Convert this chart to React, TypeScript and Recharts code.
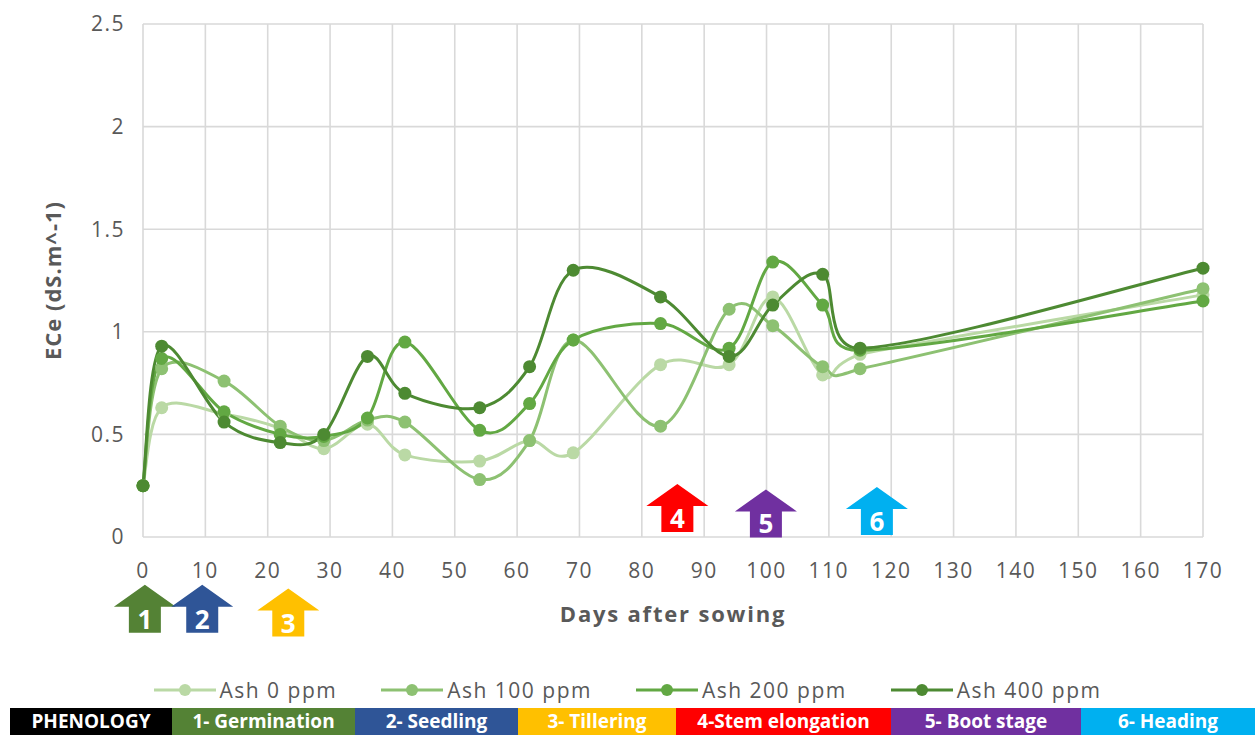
import React from 'react'
import { LineChart, Line, XAxis, YAxis, CartesianGrid, Legend, ReferenceDot, Label } from 'recharts'

const days = [0, 3, 13, 22, 29, 36, 42, 54, 62, 69, 83, 94, 101, 109, 115, 170]
const ash0 = [0.25, 0.63, 0.6, 0.53, 0.43, 0.55, 0.4, 0.37, 0.47, 0.41, 0.84, 0.84, 1.17, 0.79, 0.89, 1.18]
const ash100 = [0.25, 0.82, 0.76, 0.54, 0.47, 0.57, 0.56, 0.28, 0.47, 0.96, 0.54, 1.11, 1.03, 0.83, 0.82, 1.21]
const ash200 = [0.25, 0.87, 0.61, 0.5, 0.49, 0.58, 0.95, 0.52, 0.65, 0.96, 1.04, 0.92, 1.34, 1.13, 0.91, 1.15]
const ash400 = [0.25, 0.93, 0.56, 0.46, 0.5, 0.88, 0.7, 0.63, 0.83, 1.3, 1.17, 0.88, 1.13, 1.28, 0.92, 1.31]

const seriesKeys = ['ash0', 'ash100', 'ash200', 'ash400']
const seriesNames = ['Ash 0 ppm', 'Ash 100 ppm', 'Ash 200 ppm', 'Ash 400 ppm']
const seriesColors = ['#BAD9A5', '#8DC172', '#62A843', '#4D8A32']

const xTicks = [0, 10, 20, 30, 40, 50, 60, 70, 80, 90, 100, 110, 120, 130, 140, 150, 160, 170]
const yTicks = [0, 0.5, 1, 1.5, 2, 2.5]

// phenology stage markers (day, level on ECe axis)
const stageNumbers = ['1', '2', '3', '4', '5', '6']
const stageDays = [0.3, 9.5, 23.3, 85.7, 99.9, 117.7]
const stageLevels = [-0.35, -0.35, -0.368, 0.141, 0.115, 0.127]
const stageColors = ['#548235', '#2F5597', '#FFC000', '#FF0000', '#7030A0', '#00B0F0']

const phenologyLabels = ['PHENOLOGY', '1- Germination', '2- Seedling', '3- Tillering', '4-Stem elongation', '5- Boot stage', '6- Heading']
const phenologyColors = ['#000000', '#548235', '#2F5597', '#FFC000', '#FF0000', '#7030A0', '#00B0F0']
const phenologyEdges = [10, 172, 355, 518, 676, 891, 1081, 1255]

const data = days.map((d, i) => ({
  day: d,
  ash0: ash0[i],
  ash100: ash100[i],
  ash200: ash200[i],
  ash400: ash400[i],
}))

const FONT = '"Open Sans", sans-serif'
const TEXT = '#595959'

const clamp = (v: number, a: number, b: number) => Math.min(Math.max(v, Math.min(a, b)), Math.max(a, b))

// smoothed line like the spreadsheet one (catmull-rom style bezier, x kept inside each segment)
const smoothCurve = (context: any) => {
  let pts: number[][] = []
  return {
    areaStart() {},
    areaEnd() {},
    lineStart() {
      pts = []
    },
    point(x: number, y: number) {
      pts.push([+x, +y])
    },
    lineEnd() {
      if (!pts.length) return
      context.moveTo(pts[0][0], pts[0][1])
      for (let i = 0; i < pts.length - 1; i++) {
        const p0 = pts[i - 1] ?? pts[i]
        const p1 = pts[i]
        const p2 = pts[i + 1]
        const p3 = pts[i + 2] ?? p2
        context.bezierCurveTo(
          clamp(p1[0] + (p2[0] - p0[0]) / 6, p1[0], p2[0]),
          p1[1] + (p2[1] - p0[1]) / 6,
          clamp(p2[0] - (p3[0] - p1[0]) / 6, p1[0], p2[0]),
          p2[1] - (p3[1] - p1[1]) / 6,
          p2[0],
          p2[1],
        )
      }
    },
  }
}

const StageArrow = (props: any) => {
  const { cx, cy, fill, label } = props
  const hw = 31
  const sw = 16
  const top = cy - 24
  const base = cy - 2
  const bottom = cy + 24
  const d = `M${cx},${top} L${cx + hw},${base} L${cx + sw},${base} L${cx + sw},${bottom} L${cx - sw},${bottom} L${cx - sw},${base} L${cx - hw},${base} Z`
  return (
    <g>
      <path d={d} fill={fill} />
      <text x={cx} y={cy + 10} textAnchor="middle" dominantBaseline="central" fill="#fff" fontFamily={FONT} fontWeight={700} fontSize={26}>
        {label}
      </text>
    </g>
  )
}

const renderLegend = (props: any) => {
  const { payload = [] } = props
  return (
    <div style={{ display: 'flex', justifyContent: 'center', alignItems: 'center', gap: 44, fontFamily: FONT, fontSize: 21, letterSpacing: 1.5, color: TEXT }}>
      {payload.map((p: any) => (
        <div key={p.value} style={{ display: 'flex', alignItems: 'center' }}>
          <svg width={62} height={16}>
            <line x1={0} y1={8} x2={62} y2={8} stroke={p.color} strokeWidth={3} />
            <circle cx={31} cy={8} r={6} fill={p.color} />
          </svg>
          <span style={{ marginLeft: 4 }}>{p.value}</span>
        </div>
      ))}
    </div>
  )
}

export default function App() {
  return (
    <div style={{ position: 'absolute', left: 0, top: 0, width: 1255, height: 735, background: '#fff', overflow: 'hidden' }}>
      <LineChart width={1255} height={735} data={data} margin={{ top: 24, right: 52, bottom: 80, left: 0 }}>
        <CartesianGrid stroke="#D9D9D9" strokeWidth={1.6} />
        <XAxis
          dataKey="day"
          type="number"
          domain={[0, 170]}
          ticks={xTicks}
          interval={0}
          height={90}
          axisLine={false}
          tickLine={false}
          tickSize={0}
          tickMargin={26}
          tick={{ fill: TEXT, fontSize: 21, fontFamily: FONT, letterSpacing: 1.5 }}
        >
          <Label
            content={(p: any) => {
              const vb = p.viewBox
              return (
                <text x={vb.x + vb.width / 2} y={vb.y + 76} textAnchor="middle" dominantBaseline="central" fill={TEXT} fontFamily={FONT} fontWeight={700} fontSize={22} letterSpacing={1.8}>
                  Days after sowing
                </text>
              )
            }}
          />
        </XAxis>
        <YAxis
          type="number"
          domain={[0, 2.5]}
          ticks={yTicks}
          interval={0}
          width={143}
          axisLine={false}
          tickLine={false}
          tickSize={0}
          tickMargin={18}
          tick={{ fill: TEXT, fontSize: 21, fontFamily: FONT, letterSpacing: 1.5 }}
        >
          <Label
            content={(p: any) => {
              const vb = p.viewBox
              const cy = vb.y + vb.height / 2
              return (
                <text x={52} y={cy} transform={`rotate(-90 52 ${cy})`} textAnchor="middle" dominantBaseline="central" fill={TEXT} fontFamily={FONT} fontWeight={700} fontSize={22} letterSpacing={1}>
                  ECe (dS.m^-1)
                </text>
              )
            }}
          />
        </YAxis>
        <Legend
          verticalAlign="bottom"
          content={renderLegend}
          wrapperStyle={{ position: 'absolute', left: 0, top: 676, width: 1255, height: 28 }}
        />
        {seriesKeys.map((k, i) => (
          <Line
            key={k}
            dataKey={k}
            name={seriesNames[i]}
            type={smoothCurve as any}
            stroke={seriesColors[i]}
            strokeWidth={3}
            dot={{ r: 6.5, fill: seriesColors[i], stroke: 'none' }}
            activeDot={false}
            isAnimationActive={false}
          />
        ))}
        {stageDays.map((d, i) => (
          <ReferenceDot
            key={`stage-${i}`}
            x={d}
            y={stageLevels[i]}
            r={0}
            ifOverflow="visible"
            shape={(p: any) => <StageArrow {...p} fill={stageColors[i]} label={stageNumbers[i]} />}
          />
        ))}
      </LineChart>
      <div style={{ position: 'absolute', left: 0, top: 708, width: 1255, height: 27 }}>
        {phenologyLabels.map((t, i) => (
          <div
            key={t}
            style={{
              position: 'absolute',
              left: phenologyEdges[i],
              width: phenologyEdges[i + 1] - phenologyEdges[i],
              top: 0,
              height: 27,
              background: phenologyColors[i],
              color: '#fff',
              fontFamily: FONT,
              fontWeight: 700,
              fontSize: 19,
              lineHeight: '27px',
              textAlign: 'center',
              whiteSpace: 'nowrap',
            }}
          >
            {t}
          </div>
        ))}
      </div>
    </div>
  )
}
